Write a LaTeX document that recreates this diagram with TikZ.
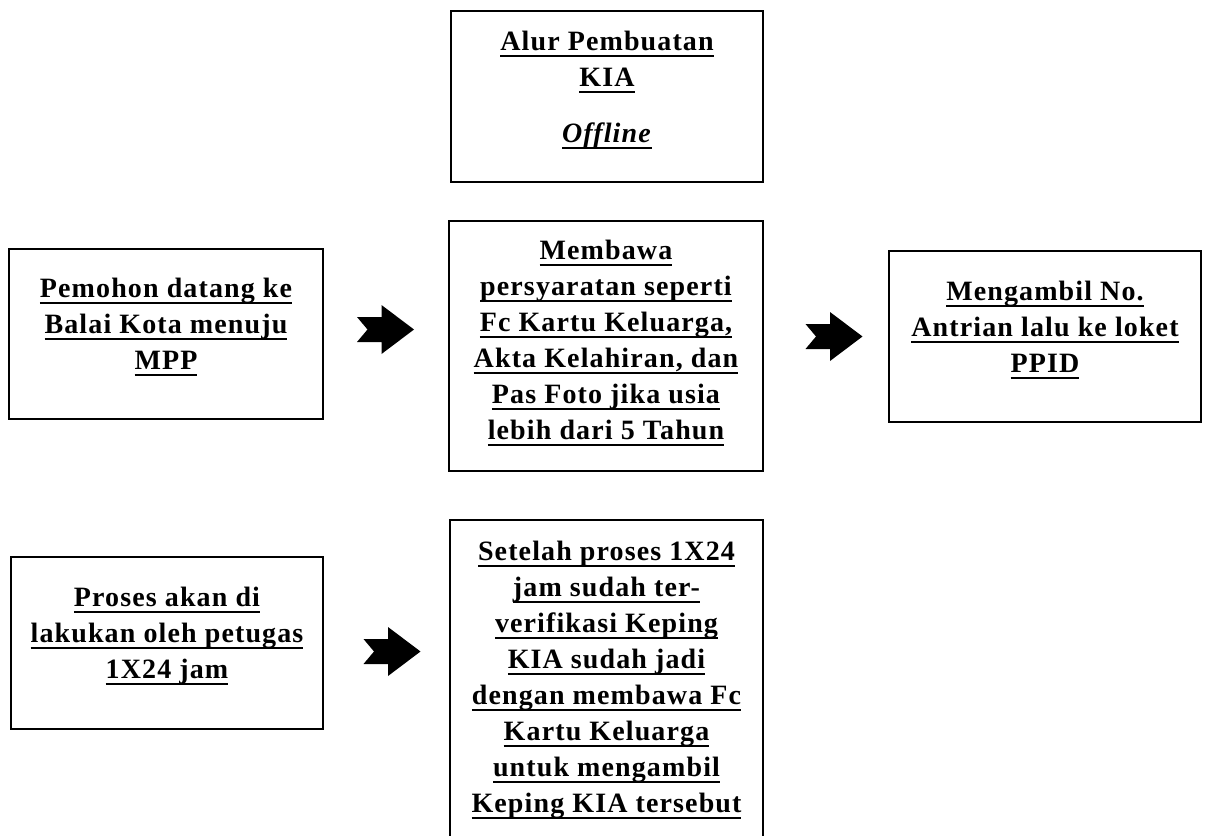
\documentclass[tikz,border=0pt]{standalone}
\usepackage{fontspec}
\setmainfont{Liberation Serif}[LetterSpace=4]
% underlined line of text with a fixed rule position
\newsavebox\ulbox
\newcommand\uln[1]{\sbox\ulbox{#1}\rlap{\rule[-3.2pt]{\wd\ulbox}{1pt}}\usebox\ulbox}
\tikzset{
  flowbox/.style={draw, line width=1pt, align=center, inner sep=0pt,
    font=\fontsize{14pt}{18pt}\selectfont\bfseries},
  blockarrow/.pic={
    \fill (-28.5,-12.5) -- (-4,-12.5) -- (-4,-24.5) -- (28.5,0) -- (-4,24.5)
      -- (-4,12.5) -- (-28.5,12.5) -- (-18,0) -- cycle;
  }
}
\begin{document}
\begin{tikzpicture}[x=0.5pt,y=-0.5pt]
\clip (0,0) rectangle (1206,836);

% title
\node[flowbox, minimum width=156pt, minimum height=85.5pt] (title) at (607,96.5)
  {\uln{Alur Pembuatan}\\ \uln{KIA}\\[10pt] \uln{\textit{Offline}}\rule[-10pt]{0pt}{0pt}};

% first row
\node[flowbox, minimum width=157pt, minimum height=85pt] (datang) at (166,334)
  {\uln{Pemohon datang ke}\\ \uln{Balai Kota menuju}\\ \uln{MPP}\rule[-10pt]{0pt}{0pt}};
\node[flowbox, minimum width=157pt, minimum height=125pt] (syarat) at (606,346)
  {\uln{Membawa}\\ \uln{persyaratan seperti}\\ \uln{Fc Kartu Keluarga,}\\
   \uln{Akta Kelahiran, dan}\\ \uln{Pas Foto jika usia}\\ \uln{lebih dari 5 Tahun}\rule[-6pt]{0pt}{0pt}};
\node[flowbox, minimum width=156pt, minimum height=85.5pt] (antrian) at (1045,336.5)
  {\uln{Mengambil No.}\\ \uln{Antrian lalu ke loket}\\ \uln{PPID}\rule[-10pt]{0pt}{0pt}};

% second row
\node[flowbox, minimum width=156pt, minimum height=86pt] (proses) at (167,643)
  {\uln{Proses akan di}\\ \uln{lakukan oleh petugas}\\ \uln{1X24 jam}\rule[-10pt]{0pt}{0pt}};
\node[flowbox, minimum width=156.5pt, minimum height=165pt] (jadi) at (606.5,685)
  {\uln{Setelah proses 1X24}\\ \uln{jam sudah ter-}\\ \uln{verifikasi Keping}\\
   \uln{KIA sudah jadi}\\ \uln{dengan membawa Fc}\\ \uln{Kartu Keluarga}\\
   \uln{untuk mengambil}\\ \uln{Keping KIA tersebut}\rule[-8pt]{0pt}{0pt}};

% step arrows
\coordinate (ar1) at (385.5,329.5);
\coordinate (ar2) at (834,336.5);
\coordinate (ar3) at (392,651.5);
\pic at (ar1) {blockarrow};
\pic at (ar2) {blockarrow};
\pic at (ar3) {blockarrow};
\end{tikzpicture}
\end{document}
